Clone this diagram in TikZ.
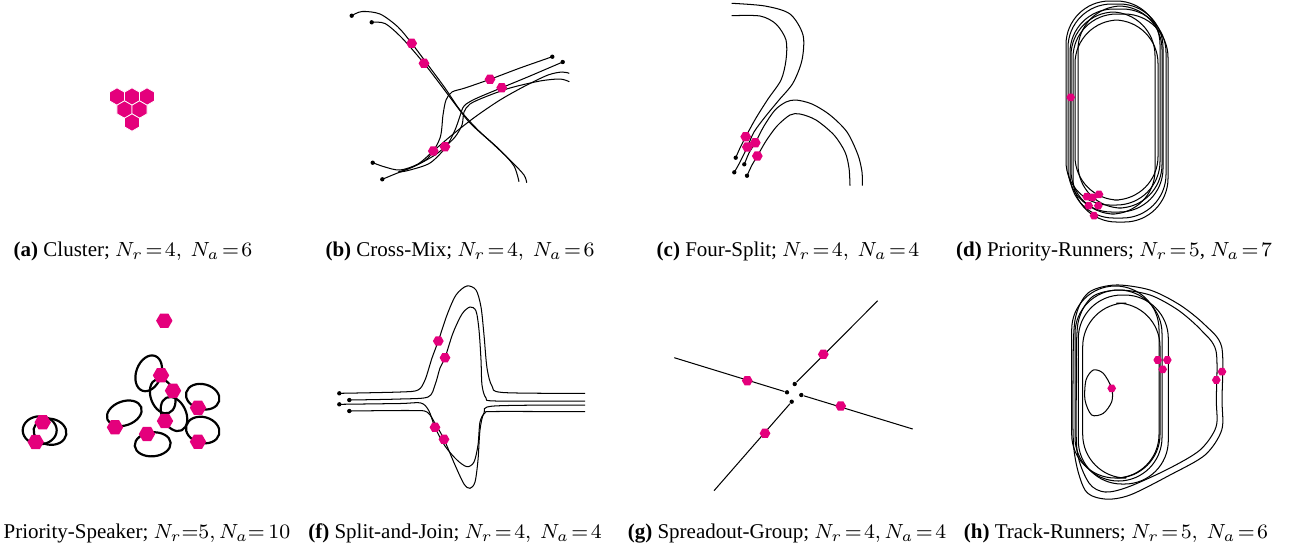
\documentclass[tikz,border=0pt]{standalone}
\usepackage{fontspec}
\setmainfont{Liberation Serif}
\usepackage{tikz}
\usetikzlibrary{shapes.geometric}
\definecolor{agentpink}{HTML}{E4007C}

\begin{document}
\begin{tikzpicture}[
  x=0.3906pt, y=-0.3906pt,
  agent/.style={regular polygon, regular polygon sides=6, fill=agentpink,
                draw=none, inner sep=0pt, minimum size=4.2pt},
  bigagent/.style={agent, minimum size=6.8pt, shape border rotate=30,
                   draw=white, line width=0.3pt},
  ringagent/.style={agent, minimum size=6.4pt},
  tinyagent/.style={agent, minimum size=3.4pt},
  startdot/.style={circle, fill=black, inner sep=0pt, minimum size=1.7pt},
  traj/.style={line width=0.4pt, black},
  ring/.style={line width=0.85pt, black},
  lap/.style={traj, rounded corners=17pt},
  caption/.style={anchor=base, inner sep=0pt, font=\fontsize{8.2}{10}\selectfont},
]
\useasboundingbox (0,0) rectangle (1293,549);

\node[bigagent] (cl1) at (117,96.5) {};
\node[bigagent] (cl2) at (132,96.5) {};
\node[bigagent] (cl3) at (147,96.5) {};
\node[bigagent] (cl4) at (124.5,109.5) {};
\node[bigagent] (cl5) at (139.5,109.5) {};
\node[bigagent] (cl6) at (132,122.5) {};

\draw[traj] plot[smooth] coordinates {(351.7,15.7) (362,11.5) (380,14) (398,27) (411.7,43.3) (428,65) (445,88) (460,110) (478,130) (500,150) (514,166) (519,181.7)};
\draw[traj] plot[smooth] coordinates {(371.7,22.3) (385,23.5) (402,38) (424,63.3) (440,84) (455,104) (470,123) (492,143) (512,162) (524,175) (526.7,182.7)};
\draw[traj] plot[smooth] coordinates {(552.3,56.7) (520,68) (490,79.3) (465,88) (452,92) (446,100) (443,115) (440,138) (428,158) (410,168) (398,172)};
\draw[traj] plot[smooth] coordinates {(562.7,62) (530,76) (501.7,87.7) (475,99) (464,106) (460,116) (455,130) (446,147) (430,163) (410,170) (400,172)};
\draw[traj] plot[smooth] coordinates {(372.7,162.7) (385,167) (400,170) (418,164) (433.3,151) (452,135) (475,117) (500,100) (525,86) (548,75) (562,72) (569.3,73.3)};
\draw[traj] plot[smooth] coordinates {(382.3,179.3) (395,174) (415,166) (435,155) (445,146.7) (455,137) (462,125) (464,112) (470,104) (485,97) (510,88) (540,81) (560,79) (569.3,81.7)};
\node[startdot] (cm1) at (351.7,15.7) {};
\node[startdot] (cm2) at (371.7,22.3) {};
\node[startdot] (cm3) at (552.3,56.7) {};
\node[startdot] (cm4) at (562.7,62) {};
\node[startdot] (cm5) at (372.7,162.7) {};
\node[startdot] (cm6) at (382.3,179.3) {};
\node[agent] (cx1) at (411.7,43.3) {};
\node[agent] (cx2) at (424,63.3) {};
\node[agent] (cx3) at (490,79.3) {};
\node[agent] (cx4) at (501.7,87.7) {};
\node[agent] (cx5) at (433.3,151) {};
\node[agent] (cx6) at (445,146.7) {};

\draw[traj] plot[smooth] coordinates {(731.7,15.7) (760,16) (776,24) (786,40) (786,60) (781,80) (768,99) (756,118) (745.7,136.7) (740,148) (735.7,157.7)};
\draw[traj] plot[smooth] coordinates {(731.7,3.3) (765,6) (790,14) (803,35) (802,60) (793,83) (779,100) (765,117) (754,132) (747.3,147) (740,162) (734.3,172.3)};
\draw[traj] plot[smooth] coordinates {(744.3,164.3) (749,153) (755.3,142.7) (764,126) (775,110) (786,102) (796,100) (812,104) (830,115) (847,132) (858,155) (862,172) (862.3,185.7)};
\draw[traj] plot[smooth] coordinates {(747,175.7) (752,165) (757.3,156) (766,141) (777,126) (790,115) (800,114) (816,120) (834,135) (845,152) (849,168) (850,185.7)};
\node[startdot] (fs1) at (735.7,157.7) {};
\node[startdot] (fs2) at (734.3,172.3) {};
\node[startdot] (fs3) at (744.3,164.3) {};
\node[startdot] (fs4) at (747,175.7) {};
\node[agent] (fx1) at (745.7,136.7) {};
\node[agent] (fx2) at (755.3,142.7) {};
\node[agent] (fx3) at (747.3,147) {};
\node[agent] (fx4) at (757.3,156) {};

\draw[lap] (1066,1) rectangle (1160,205);
\draw[lap] (1068,4) rectangle (1163,212);
\draw[lap] (1070,9) rectangle (1166,218);
\draw[lap] (1073,14) rectangle (1168,222);
\draw[lap] (1075,20) rectangle (1158,200);
\draw[lap] (1078,6) rectangle (1162,208);
\draw[lap] (1071,12) rectangle (1155,214);
\node[tinyagent] (pr1) at (1070.7,97.3) {};
\node[tinyagent] (pr2) at (1086.7,196.7) {};
\node[tinyagent] (pr3) at (1092.7,197.3) {};
\node[tinyagent] (pr4) at (1099,194.3) {};
\node[tinyagent] (pr5) at (1088.7,205.7) {};
\node[tinyagent] (pr6) at (1098.3,205.7) {};
\node[tinyagent] (pr7) at (1094,215.7) {};

\draw[ring, rotate around={-20:(148.7,373.3)}] (148.7,373.3) ellipse [x radius=12.5, y radius=18.5];
\draw[ring, rotate around={20:(162.7,396)}] (162.7,396) ellipse [x radius=12, y radius=18];
\draw[ring, rotate around={25:(174,414)}] (174,414) ellipse [x radius=12, y radius=18];
\draw[ring, rotate around={-15:(202.7,396.7)}] (202.7,396.7) ellipse [x radius=17, y radius=12.5];
\draw[ring, rotate around={-15:(202.7,430)}] (202.7,430) ellipse [x radius=17, y radius=13];
\draw[ring, rotate around={20:(124.3,413.3)}] (124.3,413.3) ellipse [x radius=18, y radius=12];
\draw[ring, rotate around={5:(152.7,444.3)}] (152.7,444.3) ellipse [x radius=18, y radius=12];
\draw[ring] (39.7,430.3) ellipse [x radius=17, y radius=14];
\draw[ring, rotate around={-10:(50,431.7)}] (50,431.7) ellipse [x radius=16.5, y radius=13];
\node[ringagent] (ps1) at (164.3,320.7) {};
\node[ringagent] (ps2) at (161,375.3) {};
\node[ringagent] (ps3) at (173,390.7) {};
\node[ringagent] (ps4) at (198,407.7) {};
\node[ringagent] (ps5) at (165,421) {};
\node[ringagent] (ps6) at (115,427.3) {};
\node[ringagent] (ps7) at (147,434) {};
\node[ringagent] (ps8) at (198,441.7) {};
\node[ringagent] (ps9) at (42.7,422.3) {};
\node[ringagent] (ps10) at (35.7,442) {};

\draw[traj] plot[smooth] coordinates {(339.3,393.3) (400,392) (418,390) (425,380) (432,358) (438.3,341) (447,315) (456,295) (466.7,286) (476,290) (481,307) (484,335) (487,368) (492,386) (503,392.5) (585,393.3)};
\draw[traj] plot[smooth] coordinates {(349.3,400) (400,399) (428,397) (435,385) (440,368) (445,357.7) (453,333) (462,314) (470,307) (476,311) (479,330) (481,360) (482,385) (486,398) (496,401) (585,401)};
\draw[traj] plot[smooth] coordinates {(339.3,404.3) (400,403.5) (421,403) (429,411) (435,427.3) (445,446) (457,460) (467,466.7) (474,462) (478,445) (480,422) (485,413) (495,411.5) (585,411.7)};
\draw[traj] plot[smooth] coordinates {(349.3,411) (410,410.5) (427,412) (436,425) (444,439.3) (455,465) (464,484) (470,488.3) (475,482) (478,460) (480,430) (484,413) (494,406) (585,405)};
\node[startdot] (sj1) at (339.3,393.3) {};
\node[startdot] (sj2) at (349.3,400) {};
\node[startdot] (sj3) at (339.3,404.3) {};
\node[startdot] (sj4) at (349.3,411) {};
\node[agent] (jx1) at (438.3,341) {};
\node[agent] (jx2) at (445,357.7) {};
\node[agent] (jx3) at (435,427.3) {};
\node[agent] (jx4) at (444,439.3) {};

\node[startdot] (sg1) at (787,392.3) {};
\node[startdot] (sg2) at (801.3,395) {};
\node[startdot] (sg3) at (794.7,384) {};
\node[startdot] (sg4) at (791.7,401.7) {};
\coordinate (ge1) at (674.3,357.7);
\coordinate (ge2) at (912.7,429);
\coordinate (ge3) at (877.7,300.7);
\coordinate (ge4) at (714,490.7);
\draw[traj] (sg1) -- (ge1);
\draw[traj] (sg2) -- (ge2);
\draw[traj] (sg3) -- (ge3);
\draw[traj] (sg4) -- (ge4);
\node[agent] (gx1) at (747.3,380.7) {};
\node[agent] (gx2) at (840.7,406) {};
\node[agent] (gx3) at (823.3,354.3) {};
\node[agent] (gx4) at (765,433.3) {};

\draw[lap] (1071.7,286) rectangle (1159,478);
\draw[lap] (1075,290) rectangle (1162,481);
\draw[lap] (1078.3,295) rectangle (1168.3,484);
\draw[lap] (1082.7,303) rectangle (1160,478);
\draw[traj] plot[smooth cycle] coordinates {(1073,380) (1075,320) (1088,293) (1115,285) (1150,290) (1180,305) (1205,325) (1221.7,347) (1222,400) (1221.7,430) (1205,455) (1170,475) (1130,495) (1105,499) (1085,490) (1074,450)};
\draw[traj] plot[smooth cycle] coordinates {(1076.5,380) (1078,323) (1092,297) (1118,290) (1150,295) (1178,310) (1201,330) (1216,351) (1216.3,400) (1216,427) (1200,450) (1168,469) (1128,487) (1105,492) (1089,483) (1077,450)};
\draw[traj] plot[smooth cycle] coordinates {(1111.7,388.3) (1103.3,373.3) (1093.3,370) (1086,380) (1085,400) (1091.7,415) (1103.3,413.3) (1111.7,401.7)};
\node[tinyagent] (tr1) at (1157.7,360) {};
\node[tinyagent] (tr2) at (1167.3,360) {};
\node[tinyagent] (tr3) at (1162.7,369.3) {};
\node[tinyagent] (tr4) at (1222,371.7) {};
\node[tinyagent] (tr5) at (1216.3,380) {};
\node[tinyagent] (tr6) at (1111.7,388.3) {};

\node[caption] (capa) at (133,256.5) {\textbf{(a)} Cluster; $N_r\!=\!4,\ N_a\!=\!6$};
\node[caption] (capb) at (460,256.5) {\textbf{(b)} Cross-Mix; $N_r\!=\!4,\ N_a\!=\!6$};
\node[caption] (capc) at (788,256.5) {\textbf{(c)} Four-Split; $N_r\!=\!4,\ N_a\!=\!4$};
\node[caption] (capd) at (1114,256.5) {\textbf{(d)} Priority-Runners; $N_r\!=\!5$, $N_a\!=\!7$};
\node[caption] (cape) at (147,538.5) {Priority-Speaker; $N_r{=}5, N_a{=}\,10$};
\node[caption] (capf) at (455,538.5) {\textbf{(f)} Split-and-Join; $N_r\!=\!4,\ N_a\!=\!4$};
\node[caption] (capg) at (787,538.5) {\textbf{(g)} Spreadout-Group; $N_r\!=\!4, N_a\!=\!4$};
\node[caption] (caph) at (1116,538.5) {\textbf{(h)} Track-Runners; $N_r\!=\!5,\ N_a\!=\!6$};

\end{tikzpicture}
\end{document}
